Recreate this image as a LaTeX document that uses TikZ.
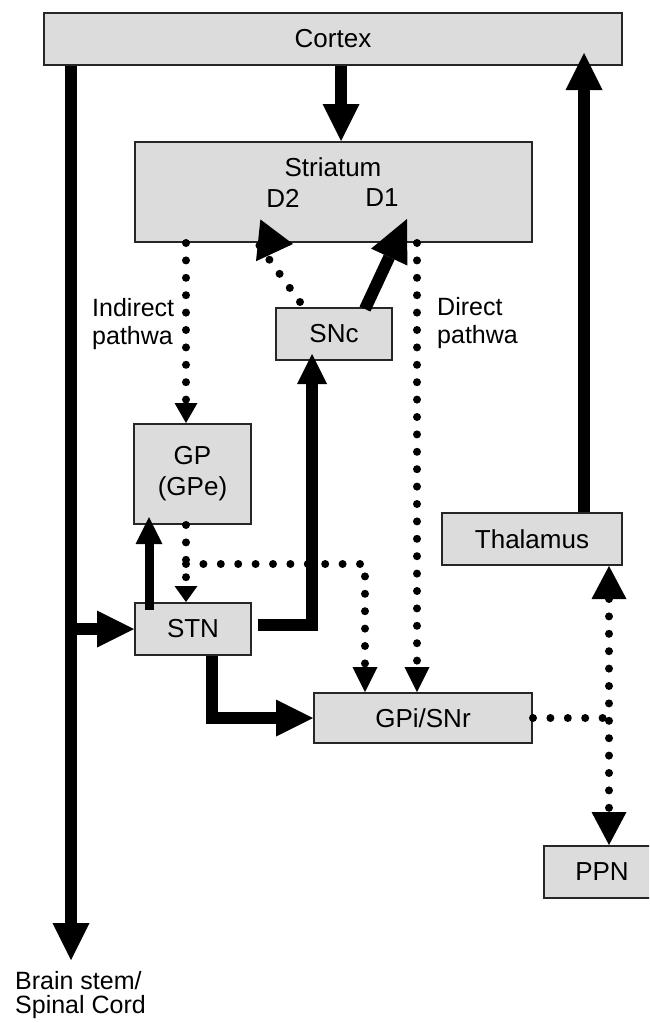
\documentclass[tikz,border=0pt]{standalone}
\usepackage{fontspec}
\setmainfont{Liberation Sans}
\usetikzlibrary{arrows.meta}
\definecolor{boxgray}{HTML}{DCDCDC}

\begin{document}
\begin{tikzpicture}[x=1pt,y=-1pt,
    nucleus/.style={draw=black!85, line width=2, fill=boxgray, inner sep=0,
      font=\fontsize{26}{31}\selectfont, align=center},
    lab/.style={font=\fontsize{25}{28}\selectfont, align=left, inner sep=0},
    fiber/.style={line width=12},
    dots/.style={line width=8, line cap=round, dash pattern=on 0pt off 17.4pt},
    bighead/.style={-{Triangle[length=37pt,width=37pt,line width=0pt]}},
    dothead/.style={-{Triangle[length=#1pt,width=25pt,line width=0pt]}}]
  \clip (0,0) rectangle (649,1023);
  % nuclei
  \node[nucleus, minimum width=578, minimum height=52] (cortex) at (333,39) {Cortex};
  \node[nucleus, minimum width=397, minimum height=100] (striatum) at (333.5,192) {};
  \node[nucleus, minimum width=116, minimum height=52] (snc) at (334,334) {SNc};
  \node[nucleus, minimum width=117, minimum height=100] (gp) at (192.5,474) {GP\\(GPe)};
  \node[nucleus, minimum width=116, minimum height=52] (stn) at (193,629) {STN};
  \node[nucleus, minimum width=218, minimum height=50] (gpi) at (423,718) {GPi/SNr};
  \node[nucleus, minimum width=180, minimum height=52] (thal) at (532,539) {Thalamus};
  \node[nucleus, minimum width=116, minimum height=52] (ppn) at (602,872) {PPN};
  % labels
  \node[nucleus, draw=none, fill=none] (strlab) at (333,167) {Striatum};
  \node[nucleus, draw=none, fill=none] (dtwo) at (283,198) {D2};
  \node[nucleus, draw=none, fill=none] (done) at (382,198) {D1};
  \node[lab, anchor=west] (indirlab) at (92,324) {Indirect\\pathwa};
  \node[lab, anchor=west] (dirlab) at (437,323) {Direct\\pathwa};
  \node[lab, anchor=west, font=\fontsize{25}{24}\selectfont] (spinelab) at (15,995) {Brain stem/\\Spinal Cord};
  % free ends
  \coordinate (spine) at (71,960);
  \coordinate (strin) at (341,0);
  \coordinate (ctxin) at (584,53);
  \coordinate (indir) at (186,0);
  \coordinate (dir) at (417,0);
  \coordinate (branch) at (186,564);
  \coordinate (gpin) at (365,0);
  \coordinate (junc) at (609,718);
  \coordinate (gpout) at (149,610);
  \coordinate (gptip) at (149,517);
  \coordinate (stnout) at (258,625);
  \coordinate (sncin) at (312,354);
  \coordinate (stngpi) at (212,0);
  \coordinate (d1foot) at (365,309);
  \coordinate (d1tip) at (407,219);
  \coordinate (d2foot) at (300,302);
  \coordinate (d2tip) at (293,244);
  % excitatory (solid) fibres
  \draw[fiber, bighead] (cortex.south -| spine) -- (spine);
  \draw[fiber, bighead] (cortex.south -| strin) -- (striatum.north -| strin);
  \draw[fiber, bighead] (thal.north -| ctxin) -- (ctxin);
  \draw[fiber, bighead] (stn.west -| spine) -- (stn.west);
  \draw[fiber, bighead] (stn.south -| stngpi) |- (gpi.west);
  \draw[fiber, -{Triangle[length=30pt,width=30pt,line width=0pt]}] (stnout) -| (sncin);
  \draw[line width=9, -{Triangle[length=27pt,width=27pt,line width=0pt]}] (gpout) -- (gptip);
  \draw[fiber, -{Triangle[length=42pt,width=40pt,line width=0pt]}] (d1foot) -- (d1tip);
  % inhibitory (dotted) fibres
  \draw[dots, -{Triangle[length=20pt,width=23pt,line width=0pt]}] (striatum.south -| indir) -- (gp.north -| indir);
  \draw[dots, -{Triangle[length=16pt,width=23pt,line width=0pt]}] (gp.south -| indir) -- (stn.north -| indir);
  \draw[dots, dothead=25] (branch) -| (gpi.north -| gpin);
  \draw[dots, dothead=25] (striatum.south -| dir) -- (gpi.north -| dir);
  \draw[dots] (gpi.east) -- (junc);
  \draw[dots, {Triangle[length=33pt,width=35pt,line width=0pt]}-{Triangle[length=33pt,width=35pt,line width=0pt]}] (thal.south -| junc) -- (ppn.north -| junc);
  \draw[dots, -{Triangle[length=35pt,width=42pt,line width=0pt]}] (d2foot) .. controls (255,240) .. (d2tip);
\end{tikzpicture}
\end{document}
